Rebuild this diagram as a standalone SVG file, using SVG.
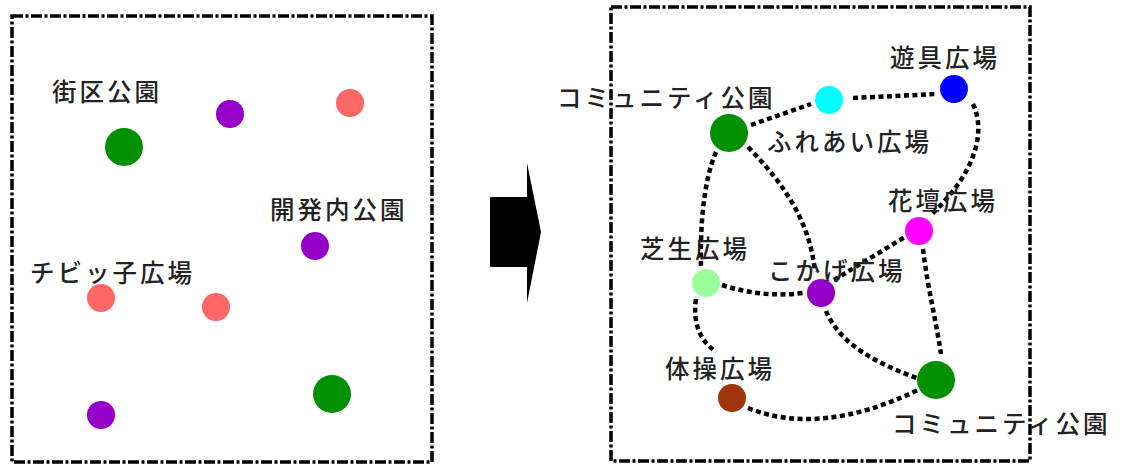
<svg xmlns="http://www.w3.org/2000/svg" width="1124" height="470" viewBox="0 0 1124 470">
<style>
.frame{fill:none;stroke:#000;stroke-width:3.5;stroke-dasharray:11 2.5 3 2.5}
.lbl{font-family:"Noto Sans CJK JP","Noto Sans CJK SC",sans-serif;font-size:24.5px;font-weight:500;letter-spacing:3px;fill:#222}
.link{fill:none;stroke:#000;stroke-width:4.5;stroke-dasharray:5 3.5}
</style>
<rect width="1124" height="470" fill="#fff"/>
<rect class="frame" x="12" y="16" width="420" height="446"/>
<rect class="frame" x="611" y="7" width="419" height="454"/>
<g id="arrow"><polygon points="490,197 527,197 527,163 541,232 527,303 527,267 490,267" fill="#000"/></g>
<g id="left">
<g id="l-green1"><circle cx="124" cy="147" r="19" fill="#009000"/></g>
<g id="l-purple1"><circle cx="230" cy="114" r="14" fill="#9400c8"/></g>
<g id="l-salmon1"><circle cx="350" cy="103" r="14" fill="#ff6666"/></g>
<g id="l-purple2"><circle cx="315" cy="246" r="14" fill="#9400c8"/></g>
<g id="l-salmon2"><circle cx="101" cy="298" r="14" fill="#ff6666"/></g>
<g id="l-salmon3"><circle cx="216" cy="307" r="14" fill="#ff6666"/></g>
<g id="l-purple3"><circle cx="101" cy="415" r="14" fill="#9400c8"/></g>
<g id="l-green2"><circle cx="332" cy="394" r="19" fill="#009000"/></g>
<text class="lbl" x="52" y="101">街区公園</text>
<text class="lbl" x="270" y="219">開発内公園</text>
<text class="lbl" x="30" y="282">チビッ子広場</text>
</g>
<g id="connectors">
<path class="link" d="M751,125 L811,104"/>
<path class="link" d="M853,98 L937,94"/>
<path class="link" d="M973,104 C986,132 976,172 932,214"/>
<path class="link" d="M716,152 C703,182 700,230 701,268"/>
<path class="link" d="M748,147 C785,185 810,222 815,272"/>
<path class="link" d="M722,285 Q762,298 803,293"/>
<path class="link" d="M834,280 L905,237"/>
<path class="link" d="M696,299 Q691,334 716,352"/>
<path class="link" d="M826,311 C840,345 880,365 917,378"/>
<path class="link" d="M923,249 C928,290 936,320 941,354"/>
<path class="link" d="M748,408 Q820,437 918,390"/>
</g>
<g id="n-comm1"><circle cx="729" cy="133" r="19" fill="#009000"/><text class="lbl" x="557" y="107">コミュニティ公園</text></g>
<g id="n-fureai"><circle cx="829" cy="100" r="14" fill="#00ffff"/><text class="lbl" x="767" y="151">ふれあい広場</text></g>
<g id="n-yugu"><circle cx="954" cy="89" r="14" fill="#0000ff"/><text class="lbl" x="890" y="67">遊具広場</text></g>
<g id="n-kadan"><circle cx="919" cy="231" r="14" fill="#ff00ff"/><text class="lbl" x="888" y="210">花壇広場</text></g>
<g id="n-shiba"><circle cx="706" cy="283" r="14" fill="#99ff99"/><text class="lbl" x="640" y="258">芝生広場</text></g>
<g id="n-kokage"><circle cx="821" cy="293" r="14" fill="#9400c8"/><text class="lbl" x="768" y="280">こかげ広場</text></g>
<g id="n-taiso"><circle cx="732" cy="398" r="14" fill="#a0340a"/><text class="lbl" x="665" y="378">体操広場</text></g>
<g id="n-comm2"><circle cx="936" cy="380" r="19" fill="#009000"/><text class="lbl" x="892" y="433">コミュニティ公園</text></g>
</svg>
